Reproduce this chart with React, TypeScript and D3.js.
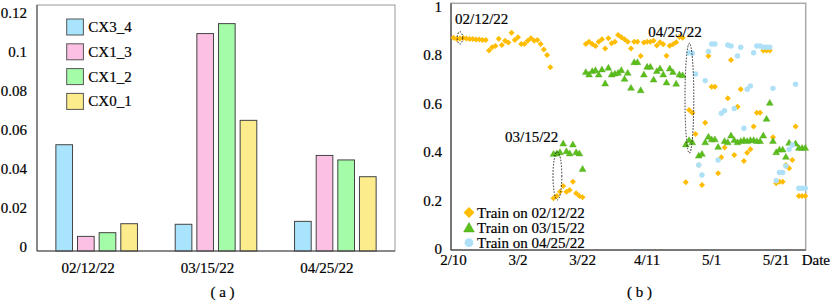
import React from 'react';
import * as d3 from 'd3';

// ---- panel (a): bar chart ----
const categories = ['02/12/22', '03/15/22', '04/25/22'];
const seriesNames = ['CX3_4', 'CX1_3', 'CX1_2', 'CX0_1'];
const cx34 = [0.0545, 0.0137, 0.0152];
const cx13 = [0.0075, 0.1115, 0.049];
const cx12 = [0.0094, 0.1166, 0.0467];
const cx01 = [0.014, 0.067, 0.0381];
const barTicks = [0, 0.02, 0.04, 0.06, 0.08, 0.1, 0.12];

// ---- panel (b): daily accuracy, index 0 = 2/10/22 ----
const startDay = Date.UTC(2022, 1, 10);
const train0212Start = 0;
const train0212 = [
  0.877, 0.872, 0.874, 0.876, 0.874, 0.872, 0.872, 0.87, 0.87, 0.868, 0.868,
  0.824, 0.838, 0.843, 0.873, 0.847, 0.865, 0.857, 0.898, 0.868, 0.879, 0.851, 0.851, 0.865, 0.875, 0.865, 0.868, 0.851, 0.829, 0.806, 0.755,
  0.214, 0.223, 0.241, 0.264, 0.241, 0.248, 0.282, 0.234, 0.223, 0.218,
  0.851, 0.861, 0.851, 0.843, 0.861, 0.871, 0.833, 0.875, 0.854, 0.861, 0.888, 0.879, 0.871, 0.861, 0.833, 0.861, 0.861, 0.802, 0.857, 0.861, 0.861, 0.865, 0.845, 0.858, 0.85, 0.803, 0.844, 0.85, 0.858, 0.88, 0.877,
  0.28, 0.579, 0.567, 0.479, 0.351, 0.269, 0.526, 0.802, 0.675, 0.675, 0.317, 0.383, 0.424, 0.627, 0.785, 0.393, 0.592, 0.664, 0.368, 0.402, 0.416, 0.51, 0.567, 0.567, 0.824, 0.824, 0.824, 0.466, 0.276, 0.282, 0.282, 0.351, 0.338, 0.372, 0.51, 0.223, 0.223, 0.223,
];
const train0315Start = 31;
const train0315: (number | null)[] = [
  0.395, 0.397, 0.402, 0.438, 0.406, 0.397, 0.434, 0.402, 0.397, 0.333,
  0.733, 0.723, 0.737, 0.741, 0.723, 0.744, 0.686, 0.751, 0.723, 0.727, 0.73, 0.741, 0.705, 0.73, 0.668, 0.774, 0.774, 0.658, 0.723, 0.755, 0.755, 0.702, 0.737, 0.748, 0.723, 0.69, 0.748, 0.733, 0.685, 0.723, 0.72,
  0.434, 0.452, 0.443, null, 0.388, 0.395, 0.443, 0.466, 0.455, 0.455, 0.424, null, 0.448, 0.443, 0.471, 0.452, 0.443, 0.448, 0.452, 0.448, 0.452, 0.452, 0.448, 0.448, 0.471, 0.54, 0.606, 0.448, 0.402, 0.413, 0.413, 0.383, 0.441, null, 0.438, 0.42, 0.42, 0.42,
];
const train0425Start = 73;
const train0425 = [
  0.815, 0.813, 0.727, 0.351, 0.31, 0.7, 0.82, 0.851, 0.851, 0.372, 0.565, 0.576, 0.847, 0.843, 0.585, 0.802, 0.838, 0.503, 0.664, 0.678, 0.815, 0.843, 0.843, 0.838, 0.838, 0.838, 0.668, 0.286, 0.32, 0.32, 0.347, 0.416, 0.434, 0.685, 0.255, 0.255, 0.255,
];
const dateTicks = ['2022-02-10', '2022-03-02', '2022-03-22', '2022-04-11', '2022-05-01', '2022-05-21'];
const accTicks = [0, 0.2, 0.4, 0.6, 0.8, 1];
// training-day markers: day index, value range circled
const annotations = [
  { label: '02/12/22', day: 2, lo: 0.851, hi: 0.902 },
  { label: '03/15/22', day: 32.2, lo: 0.207, hi: 0.406 },
  { label: '04/25/22', day: 73.1, lo: 0.4, hi: 0.854 },
];

const barColors = ['#a8e4fc', '#fcc0e4', '#a4fca8', '#fcec8c'];
const ORANGE = '#ffbc00';
const GREEN = '#5cc01c';
const BLUE = '#aee0f8';

const dayToDate = (d: number) => new Date(startDay + d * 864e5);
const diamond = (r: number) => `M0,${-r}L${r},0L0,${r}L${-r},0Z`;

// all labels share one look
const Txt = ({ children, anchor = 'start', ...rest }: any) => (
  <text textAnchor={anchor} dominantBaseline="central" fontSize={15} fill="#000"
    stroke="#000" strokeWidth={0.2}
    style={{ fontFamily: "'Liberation Serif'" }} {...rest}>{children}</text>
);

const BarPanel = () => {
  const left = 37, right = 395, top = 5, bottom = 251;
  const y = d3.scaleLinear().domain([0, 0.12]).range([bottom, 17]);
  const x0 = d3.scaleBand().domain(categories).range([left, right]);
  const half = 40.8;
  const x1 = d3.scaleBand().domain(seriesNames).range([-half, half]).paddingInner(0.23);
  const series = [cx34, cx13, cx12, cx01];
  return (
    <g>
      <rect x={left} y={top} width={right - left} height={bottom - top} fill="none" stroke="#9a9a9a" strokeWidth={1} />
      <line x1={left} x2={left} y1={top} y2={bottom} stroke="#444" />
      {categories.map((c, ci) => (
        <g key={c}>
          {seriesNames.map((s, si) => {
            const cx = x0(c)! + x0.bandwidth() / 2 + x1(s)!;
            const v = series[si][ci];
            return (
              <rect key={s} x={cx} y={y(v)} width={x1.bandwidth()} height={bottom - y(v)}
                fill={barColors[si]} stroke="#444" strokeWidth={1} />
            );
          })}
          <Txt x={x0(c)! + x0.bandwidth() / 2 - 8.5} y={268} anchor="middle">{c}</Txt>
        </g>
      ))}
      <line x1={left} x2={right} y1={bottom} y2={bottom} stroke="#444" />
      {barTicks.map((t) => (
        <Txt key={t} x={27} y={y(t) - 4} anchor="end">{String(+t.toFixed(2))}</Txt>
      ))}
      {seriesNames.map((s, i) => (
        <g key={s} transform={`translate(66.7,${19 + i * 24.8})`}>
          <rect width={16.7} height={16} fill={barColors[i]} stroke="#555" strokeWidth={1} />
          <Txt x={21.6} y={8}>{s}</Txt>
        </g>
      ))}
      <Txt x={222.5} y={292} anchor="middle">( a )</Txt>
    </g>
  );
};

const ScatterPanel = () => {
  const left = 451, right = 805.7, top = 3.3, bottom = 250;
  const x = d3.scaleUtc().domain([dayToDate(-0.77), dayToDate(109.14)]).range([left, right]);
  const y = d3.scaleLinear().domain([0, 1]).range([bottom, 8]);
  const fmt = d3.utcFormat('%-m/%-d');
  const tri = d3.symbol(d3.symbolTriangle, 20)()!;
  const triBig = d3.symbol(d3.symbolTriangle, 50)()!;
  const pts = (vals: (number | null)[], start: number) =>
    vals.map((v, i) => ({ d: start + i, v })).filter((p) => p.v != null) as { d: number; v: number }[];
  return (
    <g>
      <rect x={left} y={top} width={right - left} height={bottom - top} fill="none" stroke="#a8a8a8" strokeWidth={1.5} />
      <line x1={left} x2={left} y1={top} y2={bottom} stroke="#333" />
      <line x1={left} x2={right} y1={bottom} y2={bottom} stroke="#333" />
      {accTicks.map((t) => (
        <Txt key={t} x={442} y={y(t) - 1} anchor="end">{String(t)}</Txt>
      ))}
      {dateTicks.map((s) => {
        const dt = new Date(s + 'T00:00:00Z');
        return <Txt key={s} x={x(dt)} y={260} anchor="middle">{fmt(dt)}</Txt>;
      })}
      <Txt x={830} y={260} anchor="end">Date</Txt>

      {pts(train0212, train0212Start).map((p) => (
        <path key={'o' + p.d} d={diamond(3)} transform={`translate(${x(dayToDate(p.d))},${y(p.v)})`} fill={ORANGE} />
      ))}
      {pts(train0315, train0315Start).map((p) => (
        <path key={'g' + p.d} d={tri} transform={`translate(${x(dayToDate(p.d))},${y(p.v)})`} fill={GREEN} stroke="#4aa214" strokeWidth={0.4} />
      ))}
      {pts(train0425, train0425Start).map((p) => (
        <circle key={'b' + p.d} cx={x(dayToDate(p.d))} cy={y(p.v)} r={2.7} fill={BLUE} />
      ))}

      {annotations.map((a, i) => {
        const cx = x(dayToDate(a.day));
        const cy = (y(a.lo) + y(a.hi)) / 2;
        const ry = (y(a.lo) - y(a.hi)) / 2;
        const lx = [455, 505, 648.3][i];
        const ly = y(a.hi) - [12.4, 15, 11.6][i];
        return (
          <g key={a.label}>
            <ellipse cx={cx} cy={cy} rx={i === 0 ? 2.7 : 4.4} ry={ry} fill="none" stroke="#222" strokeWidth={1} strokeDasharray="1.5,1.5" />
            <Txt x={lx} y={ly}>{a.label}</Txt>
          </g>
        );
      })}

      <g>
        <path d={diamond(5.5)} transform="translate(469,212.5)" fill={ORANGE} />
        <Txt x={477} y={212.5}>Train on 02/12/22</Txt>
        <path d={triBig} transform="translate(469,228.8)" fill={GREEN} stroke="#4aa214" strokeWidth={0.5} />
        <Txt x={477} y={227.8}>Train on 03/15/22</Txt>
        <circle cx={469} cy={242.7} r={4.4} fill={BLUE} />
        <Txt x={477} y={242.9}>Train on 04/25/22</Txt>
      </g>
      <Txt x={639.5} y={292} anchor="middle">( b )</Txt>
    </g>
  );
};

export default function App() {
  return (
    <svg width={831} height={304} style={{ position: 'absolute', left: 0, top: 0, background: '#fff' }}>
      <rect width={831} height={304} fill="#fff" />
      <BarPanel />
      <ScatterPanel />
    </svg>
  );
}
